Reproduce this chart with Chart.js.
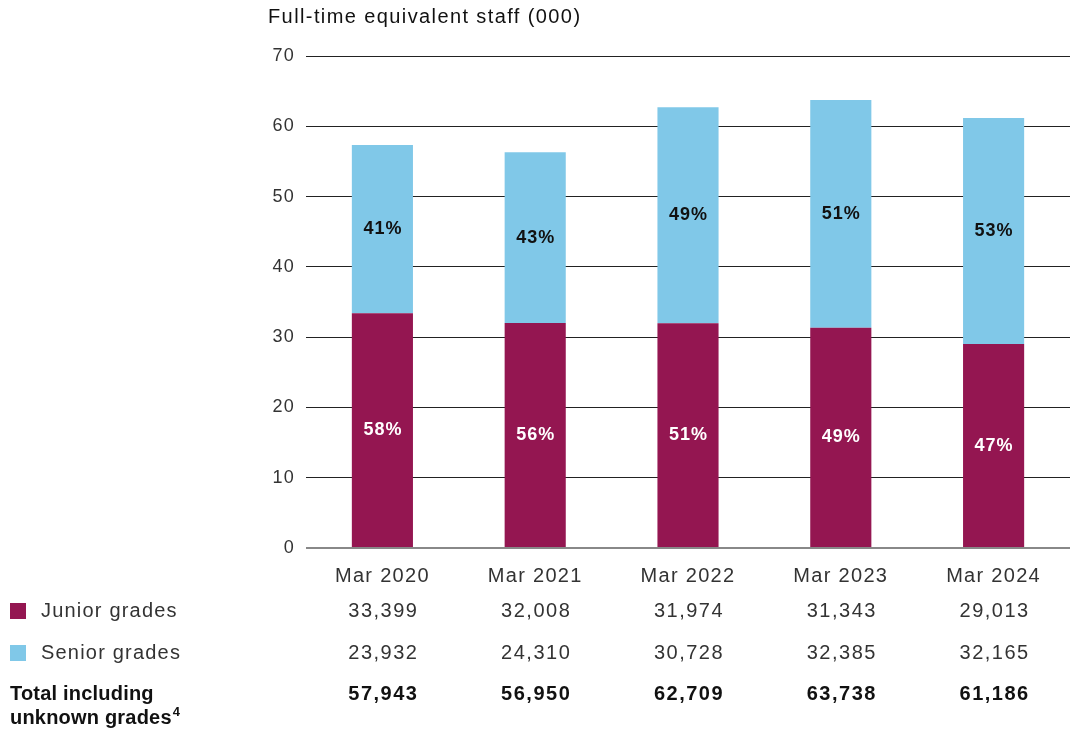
<!DOCTYPE html>
<html>
<head>
<meta charset="utf-8">
<script src="https://cdn.jsdelivr.net/npm/chart.js@4"></script>
<style>
  html, body { margin: 0; padding: 0; background: #fff; }
  #wrap { width: 1077px; height: 736px; position: relative; }
</style>
</head>
<body>
<div id="wrap"><canvas id="staffChart" width="1077" height="736"></canvas></div>
<script>
const years = ['Mar 2020', 'Mar 2021', 'Mar 2022', 'Mar 2023', 'Mar 2024'];
const junior = [33399, 32008, 31974, 31343, 29013];
const senior = [23932, 24310, 30728, 32385, 32165];
const totals = [57943, 56950, 62709, 63738, 61186];
const juniorPct = ['58%', '56%', '51%', '49%', '47%'];
const seniorPct = ['41%', '43%', '49%', '51%', '53%'];
const yTicks = [0, 10, 20, 30, 40, 50, 60, 70];

const fontName = '"Liberation Sans", Arial, sans-serif';
const juniorColor = '#941651';
const seniorColor = '#80c8e8';
const fmt = n => n.toLocaleString('en-GB');

const extras = {
  id: 'extras',
  beforeDraw(chart) {
    // the original typeface is wider, so space letters out a little
    chart.ctx.letterSpacing = '1.3px';
  },
  afterDatasetsDraw(chart) {
    const ctx = chart.ctx;
    ctx.save();
    ctx.letterSpacing = '1px';
    ctx.textAlign = 'center';
    ctx.textBaseline = 'middle';
    ctx.font = 'bold 18px ' + fontName;
    [[0, juniorPct, '#ffffff'], [1, seniorPct, '#111111']].forEach(([di, labels, col]) => {
      chart.getDatasetMeta(di).data.forEach((bar, i) => {
        ctx.fillStyle = col;
        ctx.fillText(labels[i], bar.x + 0.5, (bar.y + bar.base) / 2);
      });
    });
    ctx.restore();
  },
  afterDraw(chart) {
    const ctx = chart.ctx;
    const x = chart.scales.x;
    ctx.save();
    ctx.letterSpacing = '1.4px';
    // axis title
    ctx.fillStyle = '#111';
    ctx.font = '20px ' + fontName;
    ctx.textAlign = 'left';
    ctx.textBaseline = 'middle';
    ctx.fillText('Full-time equivalent staff (000)', 268, 17);

    // legend squares + row labels
    ctx.fillStyle = juniorColor;
    ctx.fillRect(10, 603, 16, 16);
    ctx.fillStyle = seniorColor;
    ctx.fillRect(10, 645, 16, 16);
    ctx.fillStyle = '#333';
    ctx.font = '20px ' + fontName;
    ctx.letterSpacing = '1.2px';
    ctx.fillText('Junior grades', 41, 611);
    ctx.fillText('Senior grades', 41, 653);
    ctx.fillStyle = '#111';
    ctx.font = 'bold 20px ' + fontName;
    ctx.letterSpacing = '0.2px';
    ctx.fillText('Total including', 10, 694);
    ctx.fillText('unknown grades', 10, 718);
    const w = ctx.measureText('unknown grades').width;
    ctx.font = 'bold 13px ' + fontName;
    ctx.fillText('4', 10 + w + 1, 712);

    // values table
    ctx.textAlign = 'center';
    ctx.letterSpacing = '1.5px';
    years.forEach((y, i) => {
      const cx = x.getPixelForValue(i) + 1;
      ctx.font = '20px ' + fontName;
      ctx.fillStyle = '#333';
      ctx.fillText(fmt(junior[i]), cx, 611);
      ctx.fillText(fmt(senior[i]), cx, 653);
      ctx.font = 'bold 20px ' + fontName;
      ctx.fillStyle = '#111';
      ctx.fillText(fmt(totals[i]), cx, 694);
    });
    ctx.restore();
  }
};

new Chart(document.getElementById('staffChart').getContext('2d'), {
  type: 'bar',
  data: {
    labels: years,
    datasets: [
      {
        label: 'Junior grades',
        data: junior.map(v => v / 1000),
        backgroundColor: juniorColor,
        categoryPercentage: 1,
        barPercentage: 0.4
      },
      {
        label: 'Senior grades',
        data: senior.map(v => v / 1000),
        backgroundColor: seniorColor,
        categoryPercentage: 1,
        barPercentage: 0.4
      }
    ]
  },
  options: {
    responsive: false,
    animation: false,
    layout: { padding: { top: 56, left: 0, right: 7, bottom: 0 } },
    plugins: {
      legend: { display: false },
      tooltip: { enabled: false }
    },
    scales: {
      x: {
        stacked: true,
        grid: { display: false },
        border: { display: false },
        ticks: { color: '#333', font: { family: fontName, size: 20 }, padding: 8 },
        afterFit: s => { s.height = 188; }
      },
      y: {
        stacked: true,
        min: 0,
        max: 70,
        afterBuildTicks: s => { s.ticks = yTicks.map(v => ({ value: v })); },
        grid: {
          color: ctx => ctx.tick && ctx.tick.value === 0 ? '#888' : '#222',
          lineWidth: ctx => ctx.tick && ctx.tick.value === 0 ? 2 : 1,
          drawTicks: false
        },
        border: { display: false },
        ticks: { color: '#333', font: { family: fontName, size: 18 }, padding: 11 },
        afterFit: s => { s.width = 306; }
      }
    }
  },
  plugins: [extras]
});
</script>
</body>
</html>
